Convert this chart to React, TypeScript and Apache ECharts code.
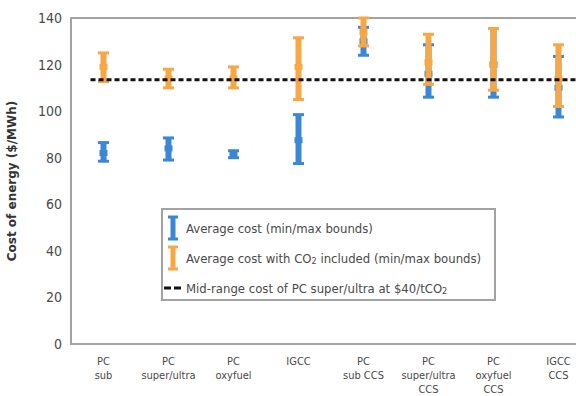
import React, { useEffect, useRef } from "react";
import * as echarts from "echarts";

const categories = [
  "PC\nsub",
  "PC\nsuper/ultra",
  "PC\noxyfuel",
  "IGCC",
  "PC\nsub CCS",
  "PC\nsuper/ultra\nCCS",
  "PC\noxyfuel\nCCS",
  "IGCC\nCCS",
];

// [min, max, mean] per category
const avgMin = [78.5, 79, 80, 77.5, 124, 106, 106, 97.5];
const avgMax = [86.5, 88.5, 83, 98.5, 136, 128.5, 135.5, 123.5];
const avgMean = [82, 84, 81.5, 87.5, 130, 116, 120, 110];

const co2Min = [112.7, 110, 110, 105, 128, 111.5, 109, 102];
const co2Max = [125, 118, 119, 131.5, 140, 133, 135.5, 128.5];
const co2Mean = [119, 114, 114, 119, 134, 121, 120, 114];

const refValue = 113.5;
const refX = [-0.2, 7.5];

const yTicks = [0, 20, 40, 60, 80, 100, 120, 140];

const BLUE = "#3c87d5";
const ORANGE = "#f7a744";
const FONT = "'Liberation Sans Narrow', 'DejaVu Sans Condensed', 'Liberation Sans', sans-serif";

function errorBar(color: string) {
  return (params: any, api: any) => {
    const x = api.value(0);
    const lo = api.coord([x, api.value(1)]);
    const hi = api.coord([x, api.value(2)]);
    const mid = api.coord([x, api.value(3)]);
    const cx = lo[0];
    return {
      type: "group",
      children: [
        { type: "rect", shape: { x: cx - 3, y: hi[1], width: 6, height: lo[1] - hi[1] }, style: { fill: color } },
        { type: "rect", shape: { x: cx - 5.5, y: hi[1] - 1.5, width: 11, height: 3 }, style: { fill: color } },
        { type: "rect", shape: { x: cx - 5.5, y: lo[1] - 1.5, width: 11, height: 3 }, style: { fill: color } },
        { type: "rect", shape: { x: cx - 4, y: mid[1] - 3, width: 8, height: 6 }, style: { fill: color } },
      ],
    };
  };
}

export default function App() {
  const ref = useRef<HTMLDivElement>(null);
  useEffect(() => {
    document.body.style.margin = "0";
    const chart = echarts.init(ref.current!, null, { renderer: "svg" });
    const blueData = categories.map((_, i) => [i, avgMin[i], avgMax[i], avgMean[i]]);
    const orangeData = categories.map((_, i) => [i, co2Min[i], co2Max[i], co2Mean[i]]);
    const textColor = "#4a4a4a";
    const legendX = 162;
    const legendY = 209;
    chart.setOption({
      animation: false,
      backgroundColor: "#ffffff",
      grid: {
        left: 71,
        top: 18,
        width: 520,
        bottom: 52,
        show: true,
        borderColor: "#a3a3a3",
        borderWidth: 2,
        backgroundColor: "transparent",
        containLabel: false,
        outerBoundsMode: "none",
      },
      xAxis: [
        {
          type: "category",
          data: categories,
          axisLine: { show: false },
          axisTick: { show: false },
          axisLabel: {
            color: textColor,
            fontFamily: FONT,
            fontSize: 11,
            lineHeight: 14,
            margin: 10,
            interval: 0,
            verticalAlign: "top",
          },
        },
        {
          type: "value",
          min: -0.5,
          max: 7.5,
          show: false,
        },
      ],
      yAxis: {
        type: "value",
        min: 0,
        max: 140,
        interval: 20,
        name: "Cost of energy ($/MWh)",
        nameLocation: "middle",
        nameGap: 53,
        nameTextStyle: {
          color: "#333",
          fontFamily: "'DejaVu Sans', sans-serif",
          fontWeight: "bold",
          fontSize: 12,
        },
        axisLine: { show: false },
        axisTick: { show: false },
        splitLine: { show: false },
        axisLabel: {
          color: textColor,
          fontFamily: FONT,
          fontSize: 14,
          margin: 9,
          formatter: (v: number) => (yTicks.includes(v) ? String(v) : ""),
        },
      },
      series: [
        {
          type: "custom",
          name: "Average cost (min/max bounds)",
          xAxisIndex: 0,
          renderItem: errorBar(BLUE),
          encode: { x: 0, y: [1, 2, 3] },
          data: blueData,
          z: 2,
        },
        {
          type: "custom",
          name: "Average cost with CO2 included (min/max bounds)",
          xAxisIndex: 0,
          renderItem: errorBar(ORANGE),
          encode: { x: 0, y: [1, 2, 3] },
          data: orangeData,
          z: 3,
        },
        {
          type: "line",
          name: "Mid-range cost of PC super/ultra at $40/tCO2",
          xAxisIndex: 1,
          data: refX.map((x) => [x, refValue]),
          symbol: "none",
          lineStyle: { color: "#111", width: 3, type: [5, 3] },
          z: 4,
        },
      ],
      graphic: [
        {
          type: "rect",
          shape: { x: legendX, y: legendY, width: 333, height: 91 },
          style: { fill: "#fff", stroke: "#a3a3a3", lineWidth: 2 },
          z: 10,
        },
        // blue icon
        { type: "rect", shape: { x: legendX + 8.5, y: legendY + 8, width: 5, height: 22 }, style: { fill: BLUE }, z: 11 },
        { type: "rect", shape: { x: legendX + 6, y: legendY + 6.5, width: 10, height: 3 }, style: { fill: BLUE }, z: 11 },
        { type: "rect", shape: { x: legendX + 6, y: legendY + 28.5, width: 10, height: 3 }, style: { fill: BLUE }, z: 11 },
        {
          type: "text",
          x: legendX + 24,
          y: legendY + 19,
          style: { text: "Average cost (min/max bounds)", fill: textColor, font: `13px ${FONT}`, verticalAlign: "middle" },
          z: 11,
        },
        // orange icon
        { type: "rect", shape: { x: legendX + 8.5, y: legendY + 38, width: 5, height: 22 }, style: { fill: ORANGE }, z: 11 },
        { type: "rect", shape: { x: legendX + 6, y: legendY + 36.5, width: 10, height: 3 }, style: { fill: ORANGE }, z: 11 },
        { type: "rect", shape: { x: legendX + 6, y: legendY + 58.5, width: 10, height: 3 }, style: { fill: ORANGE }, z: 11 },
        {
          type: "text",
          x: legendX + 24,
          y: legendY + 49,
          style: {
            text: "Average cost with CO{sub|2} included (min/max bounds)",
            fill: textColor,
            font: `13px ${FONT}`,
            verticalAlign: "middle",
            rich: {
              sub: { fontSize: 9, fontFamily: FONT, fill: textColor, padding: [6, 0, 0, 0] },
            },
          },
          z: 11,
        },
        // dashed icon
        { type: "rect", shape: { x: legendX + 2, y: legendY + 77.5, width: 7, height: 3 }, style: { fill: "#111" }, z: 11 },
        { type: "rect", shape: { x: legendX + 12, y: legendY + 77.5, width: 7, height: 3 }, style: { fill: "#111" }, z: 11 },
        {
          type: "text",
          x: legendX + 24,
          y: legendY + 79,
          style: {
            text: "Mid-range cost of PC super/ultra at $40/tCO{sub|2}",
            fill: textColor,
            font: `13px ${FONT}`,
            verticalAlign: "middle",
            rich: {
              sub: { fontSize: 9, fontFamily: FONT, fill: textColor, padding: [6, 0, 0, 0] },
            },
          },
          z: 11,
        },
      ],
    });
    return () => chart.dispose();
  }, []);
  return <div ref={ref} style={{ width: 576, height: 396 }} />;
}
